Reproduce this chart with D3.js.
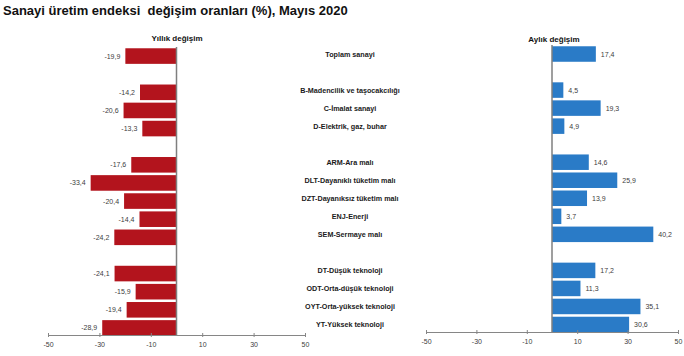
<!DOCTYPE html>
<html><head><meta charset="utf-8">
<script src="https://cdn.jsdelivr.net/npm/d3@7"></script>
<style>
html,body{margin:0;padding:0;background:#fff;}
svg{display:block;font-family:"Liberation Sans",Arial,sans-serif;}
</style></head>
<body>
<script>
const categories = ["Toplam sanayi","B-Madencilik ve taşocakcılığı","C-İmalat sanayi","D-Elektrik, gaz, buhar",
  "ARM-Ara malı","DLT-Dayanıklı tüketim malı","DZT-Dayanıksız tüketim malı","ENJ-Enerji","SEM-Sermaye malı",
  "DT-Düşük teknoloji","ODT-Orta-düşük teknoloji","OYT-Orta-yüksek teknoloji","YT-Yüksek teknoloji"];
const groups = [0,1,1,1,2,2,2,2,2,3,3,3,3];
const yearly = [-19.9,-14.2,-20.6,-13.3,-17.6,-33.4,-20.4,-14.4,-24.2,-24.1,-15.9,-19.4,-28.9];
const monthly = [17.4,4.5,19.3,4.9,14.6,25.9,13.9,3.7,40.2,17.2,11.3,35.1,30.6];
const tickValues = [-50,-30,-10,10,30,50];
const title = "Sanayi üretim endeksi  değişim oranları (%), Mayıs 2020";
const leftTitle = "Yıllık değişim";
const rightTitle = "Aylık değişim";

const W = 684, H = 356;
const svg = d3.select("body").append("svg").attr("width", W).attr("height", H);
const rows = d3.range(categories.length + groups[groups.length-1]);
const rowOf = i => i + groups[i];
const fmt = v => v.toFixed(1).replace(".", ",");

svg.append("text").attr("x", 3).attr("y", 15).attr("font-size", 13).attr("font-weight", "bold")
  .attr("fill", "#111").style("white-space", "pre").text(title);

function panel(values, xRange, yRange, axisY, color, ttl, ttlX, ttlY) {
  const x = d3.scaleLinear().domain([-50, 50]).range(xRange);
  const y = d3.scaleBand().domain(rows).range(yRange).paddingInner(0.14).paddingOuter(0.07);
  const g = svg.append("g");
  g.append("text").attr("x", ttlX).attr("y", ttlY).attr("text-anchor", "middle")
    .attr("font-size", 8).attr("font-weight", "bold").attr("fill", "#111").text(ttl);
  g.selectAll("rect.bar").data(values).join("rect").attr("class", "bar")
    .attr("x", d => Math.min(x(0), x(d)))
    .attr("width", d => Math.abs(x(d) - x(0)))
    .attr("y", (d, i) => y(rowOf(i)))
    .attr("height", y.bandwidth())
    .attr("fill", color);
  g.selectAll("text.val").data(values).join("text").attr("class", "val")
    .attr("x", d => x(d) + (d < 0 ? -5 : 5))
    .attr("y", (d, i) => y(rowOf(i)) + y.bandwidth() / 2 + 2.5)
    .attr("text-anchor", d => d < 0 ? "end" : "start")
    .attr("font-size", 7).attr("fill", "#404040").text(fmt);
  const axis = d3.axisBottom(x).tickValues(tickValues).tickSize(0).tickFormat(d => String(d));
  const ag = g.append("g").attr("transform", `translate(0,${axisY})`).call(axis);
  ag.select(".domain").attr("stroke", "#868686").attr("stroke-width", 1);
  ag.selectAll(".tick line").remove();
  ag.selectAll(".tick").append("line").attr("y1", -2).attr("y2", 2).attr("stroke", "#868686");
  ag.selectAll(".tick text").attr("y", 12).attr("dy", 0).attr("font-size", 7)
    .attr("font-family", "Liberation Sans, Arial, sans-serif").attr("fill", "#404040");
  g.append("line").attr("x1", x(0)).attr("x2", x(0)).attr("y1", yRange[0]).attr("y2", axisY)
    .attr("stroke", "#7f7f7f").attr("stroke-width", 1.5);
  return y;
}

panel(yearly, [48, 305], [47, 337], 335, "#B3141D", leftTitle, 177, 41);
const yR = panel(monthly, [426, 678], [45, 333.5], 332, "#2A7BC7", rightTitle, 554, 42);

svg.selectAll("text.cat").data(categories).join("text").attr("class", "cat")
  .attr("x", 350).attr("y", (d, i) => yR(rowOf(i)) + yR.bandwidth() / 2 + 2.5)
  .attr("text-anchor", "middle").attr("font-size", 7.2).attr("font-weight", "bold")
  .attr("fill", "#1a1a1a").text(d => d);
</script>
</body></html>
